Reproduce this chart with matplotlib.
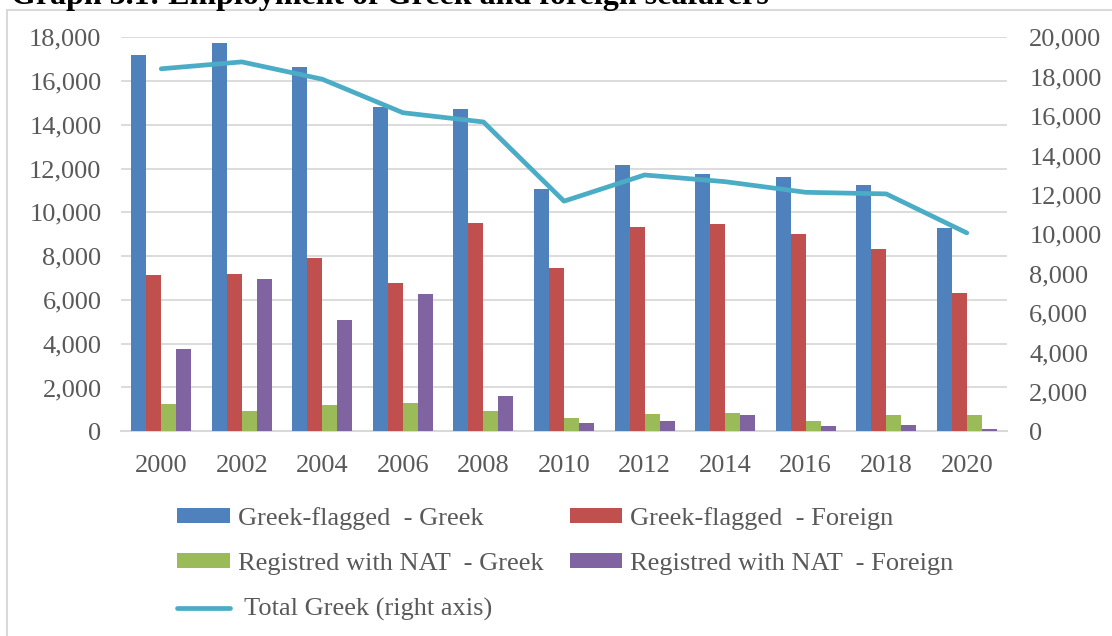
import matplotlib.pyplot as plt
import matplotlib.patches as mpatches
from matplotlib.ticker import FuncFormatter
import numpy as np

plt.rcParams['font.family'] = ['Liberation Serif', 'DejaVu Serif']

years = ['2000', '2002', '2004', '2006', '2008', '2010', '2012', '2014', '2016', '2018', '2020']
flag_greek = [17180, 17760, 16650, 14830, 14740, 11070, 12180, 11770, 11620, 11270, 9290]
flag_foreign = [7140, 7170, 7900, 6780, 9500, 7460, 9330, 9490, 9000, 8320, 6320]
nat_greek = [1250, 940, 1200, 1290, 930, 610, 790, 840, 480, 730, 750]
nat_foreign = [3750, 6960, 5070, 6260, 1630, 390, 470, 730, 240, 290, 100]
total_greek = [18400, 18750, 17870, 16170, 15700, 11680, 13010, 12670, 12130, 12050, 10070]

series = [
    (flag_greek, '#4F81BD', 'Greek-flagged  - Greek'),
    (flag_foreign, '#C0504D', 'Greek-flagged  - Foreign'),
    (nat_greek, '#9BBB59', 'Registred with NAT  - Greek'),
    (nat_foreign, '#8064A2', 'Registred with NAT  - Foreign'),
]

text_col = '#595959'
grid_col = '#D9D9D9'
fs = 19

fig = plt.figure(figsize=(11.12, 6.36), dpi=100)
ax = fig.add_axes([0.1088, 0.3219, 0.7968, 0.6195])
ax2 = ax.twinx()

x = np.arange(len(years))
w = 0.186
handles = []
for i, (vals, col, lab) in enumerate(series):
    b = ax.bar(x + (i - 1.5) * w, vals, w, color=col, label=lab, zorder=3)
    handles.append(b)

line, = ax2.plot(x, total_greek, color='#4BACC6', lw=3.4, solid_capstyle='round',
                 solid_joinstyle='round', label=' Total Greek (right axis)')

ax.set_xlim(-0.5, len(years) - 0.5)
ax.set_ylim(0, 18000)
ax.set_yticks(np.arange(0, 18001, 2000))
ax2.set_ylim(0, 20000)
ax2.set_yticks(np.arange(0, 20001, 2000))
ax.set_xticks(x)
ax.set_xticklabels(years)

fmt = FuncFormatter(lambda v, p: '{:,.0f}'.format(v))
ax.yaxis.set_major_formatter(fmt)
ax2.yaxis.set_major_formatter(fmt)

ax.yaxis.grid(True, color=grid_col, lw=1.3, zorder=0)
ax.set_axisbelow(True)
for a in (ax, ax2):
    for s in a.spines.values():
        s.set_visible(False)
ax.spines['bottom'].set_visible(True)
ax.spines['bottom'].set_color(grid_col)
ax.spines['bottom'].set_linewidth(1.5)

ax.tick_params(axis='y', length=0, pad=14, labelsize=fs, labelcolor=text_col)
ax.tick_params(axis='x', length=0, pad=17, labelsize=fs, labelcolor=text_col)
ax2.tick_params(axis='y', length=0, pad=16, labelsize=fs, labelcolor=text_col)

leg = fig.legend([handles[0], handles[2], line, handles[1], handles[3]],
                 [series[0][2], series[2][2], line.get_label(), series[1][2], series[3][2]],
                 ncol=2, loc='upper left', bbox_to_anchor=(0.159, 0.203),
                 frameon=False, fontsize=fs, labelcolor=text_col,
                 handlelength=2.0, handleheight=0.5, handletextpad=0.3,
                 columnspacing=1.0, labelspacing=0.88, borderpad=0, borderaxespad=0)

# chart border (cut by image edge on right and bottom)
fig.patches.append(mpatches.Rectangle((7 / 1112, -0.5), 2, 1.5 - 10 / 636,
                                      transform=fig.transFigure, fill=False,
                                      edgecolor=grid_col, lw=1.5))

fig.text(11 / 1112, 1 - 4 / 636, 'Graph 3.1: Employment of Greek and foreign seafarers',
         fontsize=23, fontweight='bold', va='baseline', ha='left', color='black')

fig.savefig('out.png', dpi=100)
